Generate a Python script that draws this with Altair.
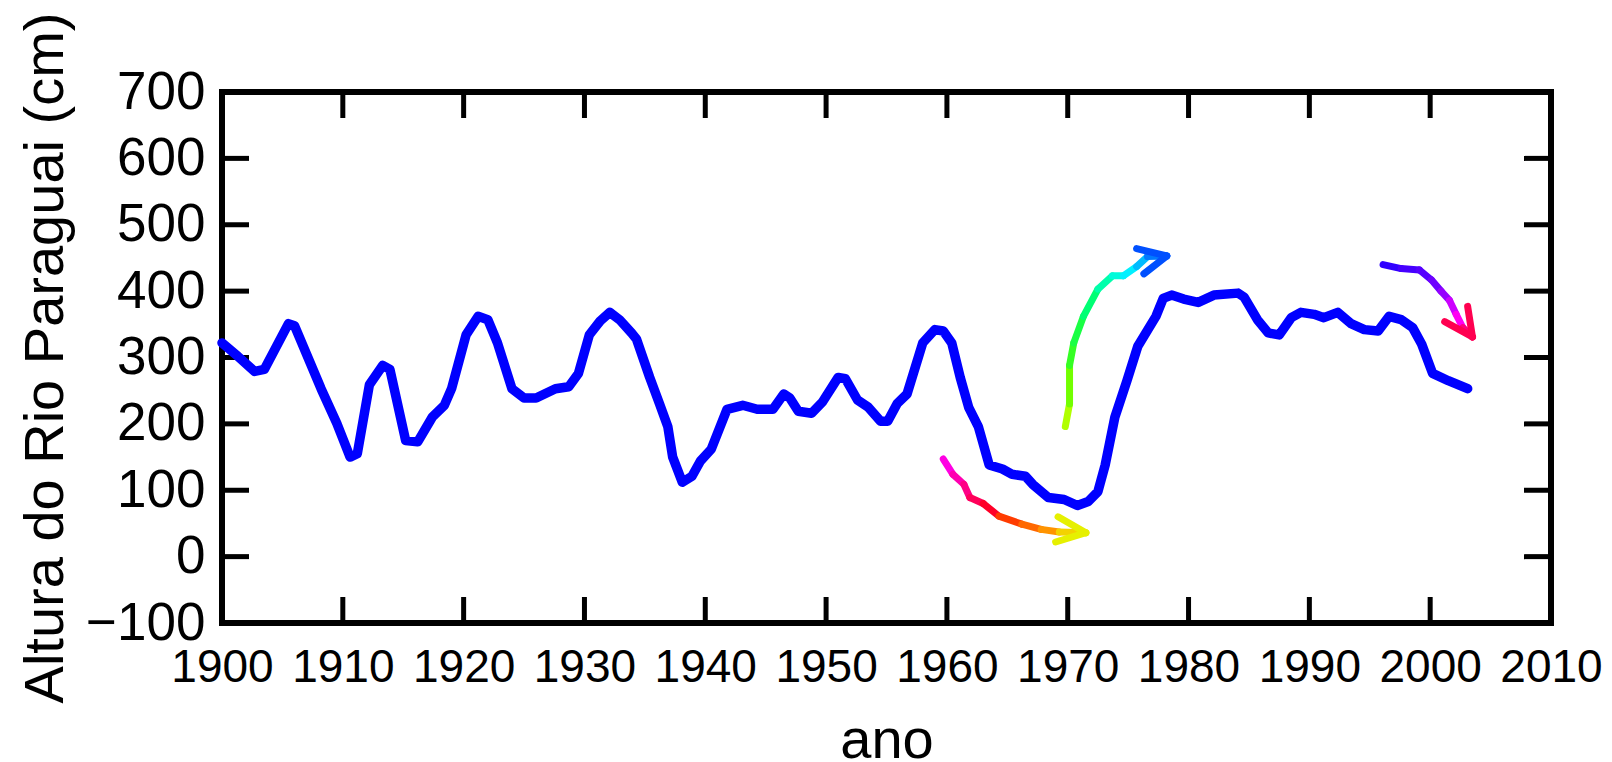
import altair as alt
import pandas as pd

# ---- data ----
years = [1900.0, 1901.3, 1902.7, 1903.5, 1905.5, 1906.0, 1908.2, 1909.5, 1910.6, 1911.2,
         1912.2, 1913.3, 1913.9, 1915.2, 1916.2, 1917.4, 1918.4, 1919.0, 1920.2, 1921.2,
         1922.0, 1922.8, 1924.0, 1925.0, 1926.0, 1927.6, 1928.7, 1929.5, 1930.4, 1931.3,
         1932.1, 1932.9, 1933.9, 1934.3, 1935.4, 1936.2, 1936.9, 1937.3, 1938.1, 1938.9,
         1939.6, 1940.5, 1941.8, 1943.1, 1944.3, 1945.6, 1946.5, 1947.0, 1947.7, 1948.8,
         1949.7, 1951.0, 1951.6, 1952.6, 1953.5, 1954.5, 1955.1, 1955.9, 1956.7, 1958.0,
         1959.0, 1959.7, 1960.4, 1961.1, 1961.8, 1962.6, 1963.5, 1964.6, 1965.4, 1966.5,
         1967.1, 1968.4, 1969.7, 1970.8, 1971.7, 1972.5, 1973.1, 1973.9, 1974.9, 1975.8,
         1977.3, 1977.9, 1978.6, 1979.6, 1980.8, 1982.1, 1984.1, 1984.6, 1985.7, 1986.6,
         1987.5, 1988.5, 1989.3, 1990.4, 1991.2, 1992.35, 1993.45, 1994.55, 1995.7, 1996.6,
         1997.6, 1998.55, 1999.3, 2000.2, 2001.5, 2003.1]
heights = [322, 302, 279, 282, 351, 348, 253, 201, 150, 155,
           259, 288, 282, 175, 173, 210, 228, 253, 334, 362,
           357, 322, 253, 239, 239, 253, 256, 276, 334, 355,
           368, 357, 337, 328, 270, 231, 196, 150, 112, 121,
           144, 162, 222, 228, 222, 222, 245, 239, 219, 216,
           233, 270, 268, 236, 225, 204, 204, 231, 245, 322,
           342, 340, 322, 270, 225, 196, 138, 132, 124, 121,
           109, 89, 86, 77, 83, 98, 138, 210, 265, 317,
           362, 389, 394, 388, 383, 394, 397, 391, 357, 337,
           334, 360, 368, 365, 360, 368, 351, 342, 340, 362,
           357, 345, 320, 276, 265, 253]

# hand-drawn arrows (year, value)
arrow1_x = [1959.7, 1960.5, 1961.4, 1961.9, 1963.0, 1964.3, 1966.2, 1967.8, 1969.3, 1971.5]
arrow1_y = [147, 124, 109, 89, 80, 61, 49, 41, 37, 36]
arrow1_barb_x = [1969.2, 1969.0]
arrow1_barb_y = [60, 22]

arrow2_x = [1969.8, 1970.15, 1970.15, 1970.5, 1971.3, 1972.5, 1973.7, 1974.6, 1975.7, 1976.6, 1978.2]
arrow2_y = [196, 230, 288, 322, 362, 403, 423, 423, 437, 452, 453]
arrow2_barb_x = [1975.7, 1976.3]
arrow2_barb_y = [464, 426]

arrow3_x = [1996.1, 1997.6, 1999.1, 2000.1, 2000.9, 2001.6, 2002.15, 2002.7, 2003.5]
arrow3_y = [440, 434, 432, 417, 400, 386, 365, 345, 331]
arrow3_barb_x = [2001.2, 2003.1]
arrow3_barb_y = [354, 377]

x_ticks = list(range(1900, 2011, 10))
y_ticks = list(range(-100, 701, 100))
inner_x_ticks = x_ticks[1:-1]
inner_y_ticks = y_ticks[1:-1]

W, H = 1329, 531


def segments(xs, ys, bx, by):
    rows = []
    n = len(xs) - 1
    for i in range(n):
        rows.append({"x": xs[i], "y": ys[i], "x2": xs[i + 1], "y2": ys[i + 1], "t": (i + 0.5) / n})
    for a, b in zip(bx, by):
        rows.append({"x": a, "y": b, "x2": xs[-1], "y2": ys[-1], "t": 1.0})
    return pd.DataFrame(rows)


line_df = pd.DataFrame({"ano": years, "h": heights})
xscale = alt.Scale(domain=[1900, 2010], nice=False, zero=False)
yscale = alt.Scale(domain=[-100, 700], nice=False, zero=False)

xaxis = alt.Axis(values=x_ticks, format="d", labelFontSize=46, labelPadding=22,
                 labelFlush=False, labelOverlap=False, title="ano", titleFontSize=56,
                 titleY=134, titleBaseline="alphabetic")
yaxis = alt.Axis(values=y_ticks, labelFontSize=53, labelPadding=17, labelFlush=False,
                 labelOverlap=False, title="Altura do Rio Paraguai (cm)", titleFontSize=56,
                 titleX=-160, titleY=H / 2, titleBaseline="alphabetic", titleAngle=270,
                 titleAlign="center")

line = alt.Chart(line_df).mark_line(color="#0000ff", strokeWidth=9.5, strokeCap="round",
                                    strokeJoin="round").encode(
    x=alt.X("ano:Q", scale=xscale, axis=xaxis),
    y=alt.Y("h:Q", scale=yscale, axis=yaxis),
)


def arrow_layer(df, domain, colors):
    return alt.Chart(df).mark_rule(strokeWidth=7, strokeCap="round").encode(
        x=alt.X("x:Q", scale=xscale, axis=xaxis),
        y=alt.Y("y:Q", scale=yscale, axis=yaxis),
        x2="x2:Q",
        y2="y2:Q",
        color=alt.Color("t:Q", scale=alt.Scale(domain=domain, range=colors), legend=None),
    )


a1 = arrow_layer(segments(arrow1_x, arrow1_y, arrow1_barb_x, arrow1_barb_y),
                 [0, 0.25, 0.55, 0.8, 1],
                 ["#ff00ff", "#ff0090", "#ff0000", "#ff8000", "#e6f000"])
a2 = arrow_layer(segments(arrow2_x, arrow2_y, arrow2_barb_x, arrow2_barb_y),
                 [0, 0.2, 0.4, 0.6, 0.75, 1],
                 ["#c8ff00", "#40ff00", "#00ff50", "#00ffc0", "#00f0ff", "#0050ff"])
a3 = arrow_layer(segments(arrow3_x, arrow3_y, arrow3_barb_x, arrow3_barb_y),
                 [0, 0.4, 0.6, 0.8, 1],
                 ["#2000ff", "#6000ff", "#a000ff", "#ff00ff", "#ff0050"])

xt_df = pd.DataFrame({"tx": inner_x_ticks})
yt_df = pd.DataFrame({"ty": inner_y_ticks})
tick_style = dict(color="black", strokeWidth=5)
top_ticks = alt.Chart(xt_df).mark_rule(**tick_style).encode(
    x=alt.X("tx:Q", scale=xscale, axis=xaxis), y=alt.value(0), y2=alt.value(26))
bottom_ticks = alt.Chart(xt_df).mark_rule(**tick_style).encode(
    x=alt.X("tx:Q", scale=xscale, axis=xaxis), y=alt.value(H - 26), y2=alt.value(H))
left_ticks = alt.Chart(yt_df).mark_rule(**tick_style).encode(
    y=alt.Y("ty:Q", scale=yscale, axis=yaxis), x=alt.value(0), x2=alt.value(27))
right_ticks = alt.Chart(yt_df).mark_rule(**tick_style).encode(
    y=alt.Y("ty:Q", scale=yscale, axis=yaxis), x=alt.value(W - 27), x2=alt.value(W))

chart = alt.layer(
    top_ticks, bottom_ticks, left_ticks, right_ticks, line, a1, a2, a3
).resolve_scale(color="independent").properties(
    width=W, height=H,
    autosize=alt.AutoSizeParams(type="none"),
    padding={"left": 222, "top": 92, "right": 61, "bottom": 139},
    background="white",
).configure_view(
    stroke="black", strokeWidth=6
).configure_axis(
    grid=False, ticks=False, domain=False, labelColor="black", titleColor="black",
    labelFont="Liberation Sans", titleFont="Liberation Sans", titleFontWeight="normal",
)

chart.save("out.html", embed_options={"renderer": "svg", "actions": False})
